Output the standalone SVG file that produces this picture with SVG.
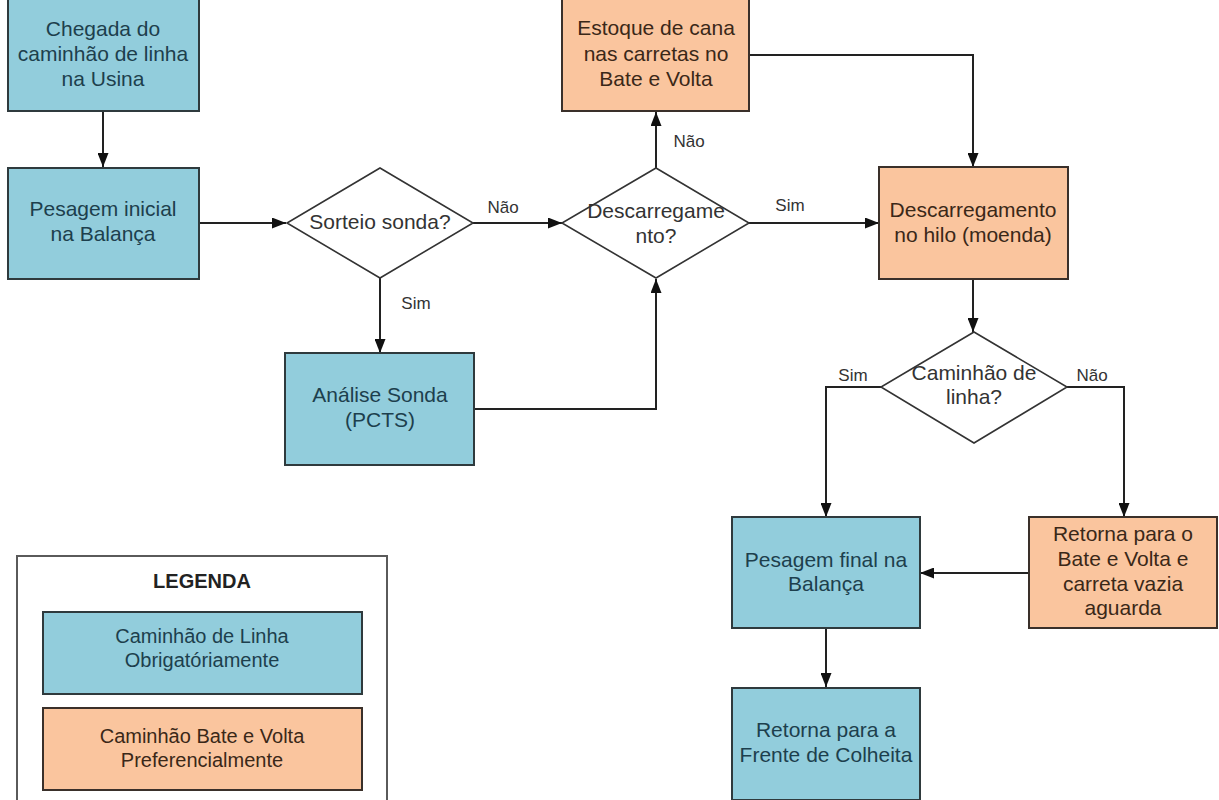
<svg xmlns="http://www.w3.org/2000/svg" width="1219" height="800" viewBox="0 0 1219 800">
  <style>
    .blue { fill: #92CDDC; stroke: #2f3a3d; stroke-width: 2; }
    .orange { fill: #FAC59E; stroke: #3a302a; stroke-width: 2; }
    .dec { fill: #ffffff; stroke: #333333; stroke-width: 1.6; }
    .legend { fill: #ffffff; stroke: #5a5a5a; stroke-width: 2; }
    text { font-family: "Liberation Sans", Arial, sans-serif; text-anchor: middle; }
    .tb { font-size: 21px; fill: #1d3f4d; }
    .to { font-size: 21px; fill: #3a2818; }
    .td { font-size: 21px; fill: #333333; }
    .lbl { font-size: 17px; fill: #333333; }
    .lt { font-size: 20px; }
    .conn { fill: none; stroke: #222222; stroke-width: 2; }
  </style>
  <defs>
    <marker id="arrow" viewBox="0 0 14 11" refX="14" refY="5.5" markerWidth="14" markerHeight="11" markerUnits="userSpaceOnUse" orient="auto">
      <path d="M0,0 L14,5.5 L0,11 Z" fill="#111111"/>
    </marker>
  </defs>

  <rect width="1219" height="800" fill="#ffffff"/>

  <!-- connectors -->
  <g id="connectors">
    <path class="conn" d="M103,111 V167" marker-end="url(#arrow)"/>
    <path class="conn" d="M199,223 H286" marker-end="url(#arrow)"/>
    <path class="conn" d="M473,223 H562" marker-end="url(#arrow)"/>
    <path class="conn" d="M380,278 V353" marker-end="url(#arrow)"/>
    <path class="conn" d="M474,409 H656 V279" marker-end="url(#arrow)"/>
    <path class="conn" d="M656,168 V112" marker-end="url(#arrow)"/>
    <path class="conn" d="M749,223 H879" marker-end="url(#arrow)"/>
    <path class="conn" d="M749,55 H973 V167" marker-end="url(#arrow)"/>
    <path class="conn" d="M973,279 V332" marker-end="url(#arrow)"/>
    <path class="conn" d="M881,387 H826 V517" marker-end="url(#arrow)"/>
    <path class="conn" d="M1067,387 H1124 V517" marker-end="url(#arrow)"/>
    <path class="conn" d="M1029,573 H920" marker-end="url(#arrow)"/>
    <path class="conn" d="M826,628 V687" marker-end="url(#arrow)"/>
    <text class="lbl" x="503" y="213">Não</text>
    <text class="lbl" x="416" y="309">Sim</text>
    <text class="lbl" x="689" y="147">Não</text>
    <text class="lbl" x="790" y="211">Sim</text>
    <text class="lbl" x="853" y="381">Sim</text>
    <text class="lbl" x="1092" y="381">Não</text>
  </g>

  <g id="chegada">
    <rect class="blue" x="8" y="-2" width="191" height="113"/>
    <text class="tb" x="103" y="36">Chegada do</text>
    <text class="tb" x="103" y="61">caminhão de linha</text>
    <text class="tb" x="103" y="86">na Usina</text>
  </g>

  <g id="pesagem-inicial">
    <rect class="blue" x="8" y="168" width="191" height="111"/>
    <text class="tb" x="103" y="216">Pesagem inicial</text>
    <text class="tb" x="103" y="241">na Balança</text>
  </g>

  <g id="sorteio">
    <polygon class="dec" points="380,168 473,223 380,278 287,223"/>
    <text class="td" x="380" y="229">Sorteio sonda?</text>
  </g>

  <g id="analise">
    <rect class="blue" x="285" y="353" width="189" height="112"/>
    <text class="tb" x="380" y="402">Análise Sonda</text>
    <text class="tb" x="380" y="427">(PCTS)</text>
  </g>

  <g id="descarregamento-dec">
    <polygon class="dec" points="656,168 749,223 656,278 562,223"/>
    <text class="td" x="656" y="218">Descarregame</text>
    <text class="td" x="656" y="243">nto?</text>
  </g>

  <g id="estoque">
    <rect class="orange" x="562" y="-2" width="187" height="113"/>
    <text class="to" x="656" y="35">Estoque de cana</text>
    <text class="to" x="656" y="61">nas carretas no</text>
    <text class="to" x="656" y="86">Bate e Volta</text>
  </g>

  <g id="descarregamento-hilo">
    <rect class="orange" x="879" y="167" width="189" height="112"/>
    <text class="to" x="973" y="217">Descarregamento</text>
    <text class="to" x="973" y="242">no hilo (moenda)</text>
  </g>

  <g id="caminhao-linha">
    <polygon class="dec" points="974,332 1067,387 974,443 881,387"/>
    <text class="td" x="974" y="380">Caminhão de</text>
    <text class="td" x="974" y="404">linha?</text>
  </g>

  <g id="pesagem-final">
    <rect class="blue" x="732" y="517" width="188" height="111"/>
    <text class="tb" x="826" y="567">Pesagem final na</text>
    <text class="tb" x="826" y="591">Balança</text>
  </g>

  <g id="retorna-bate">
    <rect class="orange" x="1029" y="517" width="188" height="111"/>
    <text class="to" x="1123" y="541">Retorna para o</text>
    <text class="to" x="1123" y="566">Bate e Volta e</text>
    <text class="to" x="1123" y="591">carreta vazia</text>
    <text class="to" x="1123" y="615">aguarda</text>
  </g>

  <g id="retorna-frente">
    <rect class="blue" x="732" y="688" width="188" height="112"/>
    <text class="tb" x="826" y="737">Retorna para a</text>
    <text class="tb" x="826" y="762">Frente de Colheita</text>
  </g>

  <g id="legenda">
    <rect class="legend" x="17" y="556" width="370" height="250"/>
    <text x="202" y="588" font-size="20" font-weight="bold" fill="#222222">LEGENDA</text>
    <rect class="blue" x="43" y="612" width="319" height="82"/>
    <text class="tb lt" x="202" y="643">Caminhão de Linha</text>
    <text class="tb lt" x="202" y="667">Obrigatóriamente</text>
    <rect class="orange" x="43" y="708" width="319" height="82"/>
    <text class="to lt" x="202" y="743">Caminhão Bate e Volta</text>
    <text class="to lt" x="202" y="767">Preferencialmente</text>
  </g>
</svg>
